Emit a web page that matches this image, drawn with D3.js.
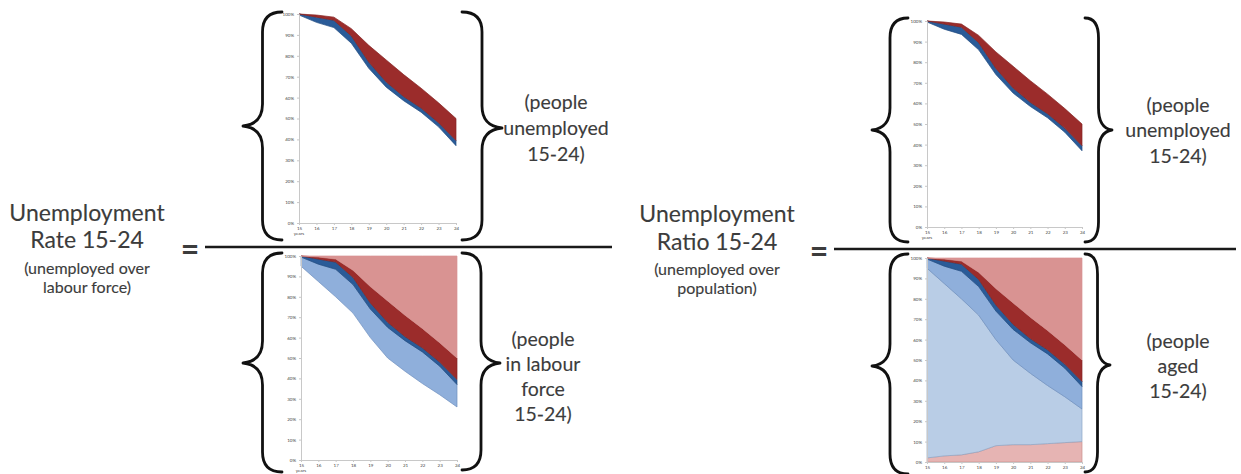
<!DOCTYPE html>
<html><head><meta charset="utf-8">
<script src="https://cdn.jsdelivr.net/npm/d3@7"></script>
<style>body{margin:0;background:#fff}svg{display:block}</style>
</head><body><svg id="c" width="1241" height="474"></svg>
<script>
// ---------- data ----------
const ages = [15, 16, 17, 18, 19, 20, 21, 22, 23, 24];
const xTickLabels = ["15", "16", "17", "18", "19", "20", "21", "22", "23", "24"];
const yTicks = [0, 10, 20, 30, 40, 50, 60, 70, 80, 90, 100];
const yTickLabels = ["0%", "10%", "20%", "30%", "40%", "50%", "60%", "70%", "80%", "90%", "100%"];
// stacked layers, bottom to top, % of cohort at each age
const pinkBottom = [2, 3, 3.5, 5, 8, 8.5, 8.5, 9, 9.5, 10];
const paleBlue   = [93, 84.5, 76.5, 67, 52, 41.5, 35, 28.5, 22.5, 16];
const midBlue    = [4.5, 8.5, 13.5, 14, 14, 15, 15, 15.5, 14, 11];
const darkBlue   = [0.5, 2.5, 3.5, 3.5, 3, 2.5, 2, 2, 2, 2.5];
const darkRed    = [0, 1, 1.5, 3.5, 8, 10.5, 10.5, 9.5, 9.5, 10.5];
const lightRed   = [0, 0.5, 1.5, 7, 15, 22, 29, 35.5, 42.5, 50];
const layerKeys  = ["pinkBottom", "paleBlue", "midBlue", "darkBlue", "darkRed", "lightRed"];

// ---------- styles ----------
const fills = {pinkBottom:"#e6b4b3", paleBlue:"#b9cde6", midBlue:"#8fafdb", darkBlue:"#2a5b98", darkRed:"#9b2c2b", lightRed:"#d99392"};
const strokes = {pinkBottom:"#c98f8e", paleBlue:"#8ea6c6", midBlue:"#6f8fbf", darkBlue:"#1f4a80", darkRed:"#852422", lightRed:"#d99392"};

const rows = ages.map((a, i) => ({age:a, pinkBottom:pinkBottom[i], paleBlue:paleBlue[i], midBlue:midBlue[i], darkBlue:darkBlue[i], darkRed:darkRed[i], lightRed:lightRed[i]}));
const stacked = d3.stack().keys(layerKeys)(rows);

const svg = d3.select("#c");
const FONT = "Lato, 'Open Sans', sans-serif";

const panels = [
  {x0:299, x1:456, yTop:14, yBot:223, show:["darkBlue","darkRed"], years:true},
  {x0:301, x1:457, yTop:256, yBot:460, show:["midBlue","darkBlue","darkRed","lightRed"], years:true},
  {x0:927, x1:1082, yTop:21, yBot:227, show:["darkBlue","darkRed"], years:true},
  {x0:927, x1:1082, yTop:258, yBot:462, show:layerKeys, years:false}
];

panels.forEach(p => {
  const x = d3.scaleLinear().domain([15, 24]).range([p.x0, p.x1]);
  const y = d3.scaleLinear().domain([0, 100]).range([p.yBot, p.yTop]);
  const g = svg.append("g");
  const area = d3.area().x(d => x(d.data.age)).y0(d => y(d[0])).y1(d => y(d[1]));
  stacked.filter(s => p.show.includes(s.key)).forEach(s => {
    g.append("path").datum(s).attr("d", area)
      .attr("fill", fills[s.key]).attr("stroke", strokes[s.key]).attr("stroke-width", 0.7);
  });
  const ya = g.append("g").attr("transform", `translate(${p.x0},0)`)
    .call(d3.axisLeft(y).tickValues(yTicks).tickFormat((d, i) => yTickLabels[i]).tickSize(2).tickPadding(3));
  const xa = g.append("g").attr("transform", `translate(0,${p.yBot})`)
    .call(d3.axisBottom(x).tickValues(ages).tickFormat((d, i) => xTickLabels[i]).tickSize(2).tickPadding(2));
  [ya, xa].forEach(a => {
    a.select(".domain").attr("stroke", "#c8c8c8").attr("stroke-width", 1);
    a.selectAll(".tick line").attr("stroke", "#c8c8c8");
    a.selectAll("text").attr("fill", "#444").style("font-size", "4.5px").style("font-family", FONT);
  });
  if (p.years) g.append("text").attr("x", p.x0).attr("y", p.yBot + 12).attr("text-anchor", "middle")
    .attr("fill", "#444").style("font-size", "4.5px").style("font-family", FONT).text("years");
});

// ---------- braces ----------
function brace(xEnd, xTip, y1, y2, ym) {
  const xm = xEnd + (xTip - xEnd) * 0.5, r = 20, t = 22;
  return `M${xEnd},${y1} Q${xm},${y1} ${xm},${y1 + r} L${xm},${ym - t} Q${xm},${ym - 2} ${xTip},${ym}` +
         ` Q${xm},${ym + 2} ${xm},${ym + t} L${xm},${y2 - r} Q${xm},${y2} ${xEnd},${y2}`;
}
const braces = [
  [282, 243, 12, 240, 126], [462, 502, 12, 240, 128],
  [282, 243, 253, 472, 363], [462, 500, 253, 470, 363],
  [908, 872, 18, 242, 130], [1085, 1112, 18, 242, 130],
  [908, 872, 254, 474, 366], [1085, 1110, 254, 472, 365]
];
braces.forEach(b => svg.append("path").attr("d", brace(...b))
  .attr("fill", "none").attr("stroke", "#111").attr("stroke-width", 2.8).attr("stroke-linejoin", "round").attr("stroke-linecap", "round"));

// ---------- fraction lines and equals ----------
svg.append("line").attr("x1", 205).attr("x2", 612).attr("y1", 247).attr("y2", 247).attr("stroke", "#1a1a1a").attr("stroke-width", 2.6);
svg.append("line").attr("x1", 834).attr("x2", 1236).attr("y1", 249).attr("y2", 249).attr("stroke", "#1a1a1a").attr("stroke-width", 2.6);

function txt(x, y, s, size, weight) {
  svg.append("text").attr("x", x).attr("y", y).attr("text-anchor", "middle")
    .attr("fill", "#3c3c3c").attr("stroke", "#3c3c3c").attr("stroke-width", weight ? 0 : 0.12)
    .style("font-weight", weight || "normal")
    .style("font-family", FONT).style("font-size", size + "px").text(s);
}
txt(190, 261, "=", 32, "bold");
txt(819, 263, "=", 32, "bold");

txt(87, 221, "Unemployment", 23);
txt(87, 248, "Rate 15-24", 23);
txt(87, 274, "(unemployed over", 16);
txt(87, 293, "labour force)", 16);

txt(717, 222, "Unemployment", 23);
txt(717, 250, "Ratio 15-24", 23);
txt(717, 275, "(unemployed over", 16);
txt(717, 294, "population)", 16);

[["(people", 109], ["unemployed", 135], ["15-24)", 161]].forEach(([s, y]) => txt(556, y, s, 19.5));
[["(people", 346], ["in labour", 371], ["force", 396], ["15-24)", 421]].forEach(([s, y]) => txt(543, y, s, 19.5));
[["(people", 112], ["unemployed", 137], ["15-24)", 163]].forEach(([s, y]) => txt(1178, y, s, 19.5));
[["(people", 348], ["aged", 373], ["15-24)", 398]].forEach(([s, y]) => txt(1178, y, s, 19.5));
</script></body></html>
